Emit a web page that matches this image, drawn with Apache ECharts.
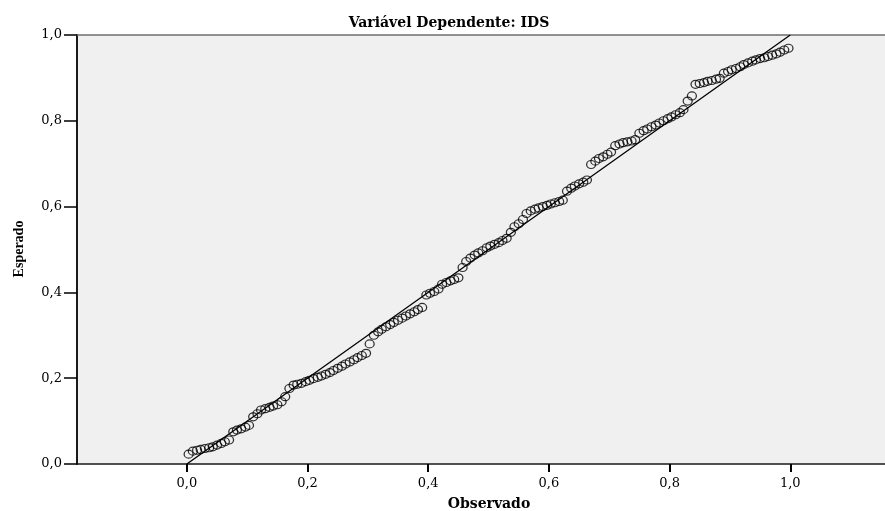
<!DOCTYPE html>
<html>
<head>
<meta charset="utf-8">
<script src="https://cdn.jsdelivr.net/npm/echarts@6/dist/echarts.min.js"></script>
<style>html,body{margin:0;padding:0;background:#fff}#c{width:885px;height:511px}</style>
</head>
<body>
<div id="c"></div>
<script>
const titleText = "Variável Dependente: IDS";
const xName = "Observado";
const yName = "Esperado";
const xTicks = [0.0, 0.2, 0.4, 0.6, 0.8, 1.0];
const yTicks = [0.0, 0.2, 0.4, 0.6, 0.8, 1.0];
const refLine = [[0, 0], [1, 1]];
const observed = [
0.003,0.010,0.017,0.023,0.030,0.037,0.043,0.050,0.057,0.063,
0.070,0.077,0.083,0.090,0.097,0.103,0.110,0.117,0.123,0.130,
0.137,0.143,0.150,0.157,0.163,0.170,0.177,0.183,0.190,0.197,
0.203,0.210,0.217,0.223,0.230,0.237,0.243,0.250,0.257,0.263,
0.270,0.277,0.283,0.290,0.297,0.303,0.310,0.317,0.323,0.330,
0.337,0.343,0.350,0.357,0.363,0.370,0.377,0.383,0.390,0.397,
0.403,0.410,0.417,0.423,0.430,0.437,0.443,0.450,0.457,0.463,
0.470,0.477,0.483,0.490,0.497,0.503,0.510,0.517,0.523,0.530,
0.537,0.543,0.550,0.557,0.563,0.570,0.577,0.583,0.590,0.597,
0.603,0.610,0.617,0.623,0.630,0.637,0.643,0.650,0.657,0.663,
0.670,0.677,0.683,0.690,0.697,0.703,0.710,0.717,0.723,0.730,
0.737,0.743,0.750,0.757,0.763,0.770,0.777,0.783,0.790,0.797,
0.803,0.810,0.817,0.823,0.830,0.837,0.843,0.850,0.857,0.863,
0.870,0.877,0.883,0.890,0.897,0.903,0.910,0.917,0.923,0.930,
0.937,0.943,0.950,0.957,0.963,0.970,0.977,0.983,0.990,0.997
];
const expected = [
0.023,0.030,0.032,0.034,0.036,0.038,0.040,0.044,0.048,0.052,
0.056,0.075,0.079,0.082,0.086,0.090,0.110,0.117,0.126,0.129,
0.132,0.135,0.138,0.145,0.157,0.176,0.184,0.186,0.188,0.192,
0.195,0.199,0.202,0.205,0.209,0.213,0.218,0.223,0.228,0.233,
0.238,0.243,0.248,0.253,0.258,0.280,0.300,0.308,0.314,0.320,
0.325,0.330,0.335,0.340,0.345,0.350,0.355,0.360,0.365,0.394,
0.398,0.402,0.408,0.419,0.423,0.427,0.430,0.434,0.458,0.472,
0.480,0.487,0.492,0.497,0.504,0.508,0.512,0.516,0.521,0.526,
0.540,0.553,0.560,0.570,0.584,0.590,0.594,0.597,0.600,0.603,
0.606,0.609,0.612,0.615,0.636,0.643,0.648,0.653,0.657,0.662,
0.698,0.706,0.712,0.716,0.722,0.727,0.742,0.746,0.749,0.751,
0.753,0.756,0.771,0.777,0.781,0.786,0.790,0.795,0.800,0.805,
0.809,0.814,0.819,0.826,0.846,0.858,0.885,0.887,0.889,0.892,
0.894,0.897,0.899,0.911,0.915,0.919,0.922,0.926,0.931,0.935,
0.939,0.942,0.945,0.947,0.950,0.953,0.956,0.960,0.965,0.969
];
const points = observed.map((x, i) => [x, expected[i]]);
const fmt = v => Number(v).toFixed(1).replace('.', ',');
const serif = '"DejaVu Serif", "Liberation Serif", serif';

const chart = echarts.init(document.getElementById('c'), null, {renderer: 'canvas'});
chart.setOption({
  animation: false,
  backgroundColor: '#ffffff',
  grid: {left: 77, top: 35, right: -3, bottom: 47, show: true, backgroundColor: '#f0f0f0', borderWidth: 0},
  graphic: [
    {type: 'text', x: 449, y: 23, style: {text: titleText, font: 'bold 14px ' + serif, fill: '#000', align: 'center', verticalAlign: 'middle'}},
    {type: 'text', x: 489, y: 504, style: {text: xName, font: 'bold 14px ' + serif, fill: '#000', align: 'center', verticalAlign: 'middle'}},
    {type: 'text', x: 19, y: 249, rotation: Math.PI / 2,
     style: {text: yName, font: 'bold 14px "Liberation Serif", serif', fill: '#000', align: 'center', verticalAlign: 'middle'}}
  ],
  xAxis: [{
    type: 'value', min: -0.182, max: 1.157, position: 'bottom',
    splitLine: {show: false},
    axisLine: {show: true, onZero: false, lineStyle: {color: '#1a1a1a', width: 1.5}},
    axisTick: {show: true, customValues: xTicks, length: 8, inside: false, lineStyle: {color: '#000', width: 2}},
    axisLabel: {show: true, customValues: xTicks, formatter: fmt, margin: 13, color: '#000', fontFamily: serif, fontSize: 13}
  }, {
    type: 'value', min: -0.182, max: 1.157, position: 'top',
    splitLine: {show: false},
    axisLine: {show: true, onZero: false, lineStyle: {color: '#6e6e6e', width: 1.5}},
    axisTick: {show: false}, axisLabel: {show: false}
  }],
  yAxis: {
    type: 'value', min: 0, max: 1, interval: 0.2,
    splitLine: {show: false},
    axisLine: {show: true, onZero: false, lineStyle: {color: '#1a1a1a', width: 2}},
    axisTick: {show: true, length: 13, inside: false, lineStyle: {color: '#000', width: 1.5}},
    axisLabel: {formatter: fmt, margin: 15, color: '#000', fontFamily: serif, fontSize: 13}
  },
  series: [
    {type: 'line', data: refLine, showSymbol: false, symbol: 'none', lineStyle: {color: '#000', width: 1.3}, z: 3, silent: true},
    {type: 'scatter', data: points, symbol: 'circle', symbolSize: [9, 8],
     itemStyle: {color: 'rgba(0,0,0,0)', borderColor: '#000', borderWidth: 1.2}, z: 2}
  ]
});
</script>
</body>
</html>
